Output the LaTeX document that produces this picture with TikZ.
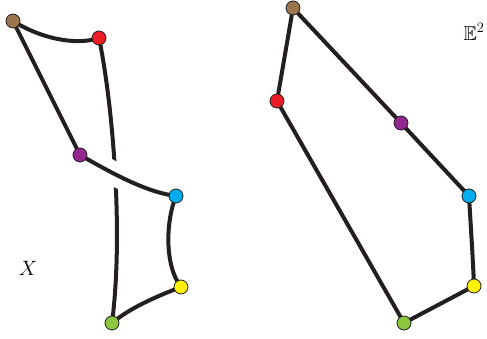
\documentclass[tikz,border=0pt]{standalone}
\usepackage{amssymb}
\usetikzlibrary{backgrounds}
\definecolor{ln}{HTML}{231F20}
\definecolor{cbrown}{HTML}{98754A}
\definecolor{cred}{HTML}{ED1C24}
\definecolor{cpurple}{HTML}{92278F}
\definecolor{cblue}{HTML}{00AEEF}
\definecolor{cyellow}{HTML}{FFF200}
\definecolor{cgreen}{HTML}{8DC63F}
\tikzset{
  edge/.style={draw=ln, line width=4pt, line cap=round},
  vtx/.style={circle, draw=ln, line width=0.8pt, minimum size=14pt, inner sep=0pt, fill=#1},
  lbl/.style={font=\fontsize{20}{24}\selectfont, inner sep=0pt}
}
\begin{document}
\begin{tikzpicture}[x=1pt,y=-1pt]
\useasboundingbox (0,0) rectangle (487,339);
% left vertices
\node[vtx=cbrown]  (lb) at (13,21) {};
\node[vtx=cred]    (lr) at (99,38) {};
\node[vtx=cpurple] (lp) at (80,155) {};
\node[vtx=cblue]   (lc) at (176,196) {};
\node[vtx=cyellow] (ly) at (181,287) {};
\node[vtx=cgreen]  (lg) at (112,323) {};
% right vertices
\node[vtx=cbrown]  (rb) at (293,8) {};
\node[vtx=cred]    (rr) at (277,101) {};
\node[vtx=cpurple] (rp) at (401,123) {};
\node[vtx=cblue]   (rc) at (469,196) {};
\node[vtx=cyellow] (ry) at (474,286) {};
\node[vtx=cgreen]  (rg) at (404,323) {};
% labels
\node[lbl] (lx) at (28,268) {$X$};
\node[lbl] (le) at (474,32) {$\mathbb{E}^2$};
\begin{pgfonlayer}{background}
% left edges
\draw[edge] (lr.center) .. controls (112,100) and (124,230) .. (lg.center);
\begin{scope}
  \clip (100,150) rectangle (135,205);
  \draw[white, line width=24pt] (lp.center) .. controls (110,172) and (145,192) .. (lc.center);
\end{scope}
\draw[edge] (lb.center) .. controls (40,38) and (75,46) .. (lr.center);
\draw[edge] (lb.center) -- (lp.center);
\draw[edge] (lp.center) .. controls (110,172) and (145,192) .. (lc.center);
\draw[edge] (lc.center) .. controls (166,220) and (164,265) .. (ly.center);
\draw[edge] (ly.center) .. controls (155,297) and (130,308) .. (lg.center);
% right edges
\draw[edge] (rb.center) -- (rr.center);
\draw[edge] (rr.center) -- (rg.center);
\draw[edge] (rb.center) -- (rp.center);
\draw[edge] (rp.center) -- (rc.center);
\draw[edge] (rc.center) .. controls (471,230) and (473,260) .. (ry.center);
\draw[edge] (ry.center) -- (rg.center);
\end{pgfonlayer}
\end{tikzpicture}
\end{document}
